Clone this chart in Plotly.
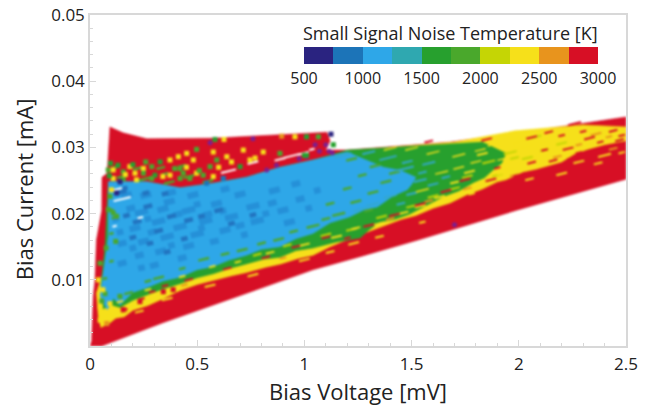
import plotly.graph_objects as go

FONT = "Open Sans"
TEXT = "#222222"
BAND_COLORS = ["#2a2380", "#1c74b8", "#2ea7e8", "#2fa8b0", "#27a02e",
               "#4aa82c", "#c5d505", "#f6e01a", "#e8941d", "#d70f25"]
TEMP_TICKS = [500, 1000, 1500, 2000, 2500, 3000]
STREAK_SLOPE = 0.008

# Region outlines (bias voltage mV, bias current mA)
red_v = [0.0, 0.055, 0.34, 0.685, 1.04, 1.26, 1.53, 1.99, 2.5, 2.5, 2.02, 1.68, 1.2, 1.10, 1.12, 1.105, 0.886, 0.575, 0.265, 0.154, 0.093, 0.08, 0.056, 0.055, 0.03, 0.023, 0.015, 0.008]
red_i = [0.0, 0.0, 0.0035, 0.0075, 0.0115, 0.0135, 0.016, 0.0205, 0.0252, 0.0346, 0.0323, 0.0308, 0.0296, 0.0296, 0.031, 0.0323, 0.0319, 0.0314, 0.0313, 0.0322, 0.0331, 0.0261, 0.0255, 0.0205, 0.016, 0.01, 0.0075, 0.001]

yellow_v = [0.05, 0.09, 0.12, 0.16, 0.2, 0.27, 0.33, 0.42, 0.5, 0.58, 0.66, 0.73, 0.82, 0.89, 0.97, 1.04, 1.12, 1.21, 1.3, 1.37, 1.45, 1.52, 1.6, 1.68, 1.76, 1.83, 1.9, 1.94, 2.02, 2.08, 2.15, 2.2, 2.26, 2.32, 2.4, 2.5, 2.5, 2.3, 1.98, 1.7, 1.2, 0.9, 0.3, 0.07, 0.03, 0.04]
yellow_i = [0.0028, 0.0034, 0.0042, 0.0044, 0.0054, 0.0061, 0.007, 0.0084, 0.0093, 0.01, 0.0106, 0.0111, 0.0119, 0.0124, 0.0132, 0.0137, 0.015, 0.0162, 0.0173, 0.0182, 0.0191, 0.0197, 0.0208, 0.0216, 0.0229, 0.0237, 0.0248, 0.0251, 0.0263, 0.0267, 0.0274, 0.0278, 0.029, 0.0297, 0.0304, 0.031, 0.0331, 0.0334, 0.0325, 0.0308, 0.0295, 0.025, 0.02, 0.012, 0.008, 0.004]

green_v = [0.06, 0.1, 0.14, 0.2, 0.265, 0.34, 0.42, 0.5, 0.575, 0.65, 0.73, 0.81, 0.886, 0.96, 1.04, 1.15, 1.26, 1.3, 1.35, 1.42, 1.49, 1.57, 1.65, 1.72, 1.79, 1.84, 1.88, 1.92, 1.94, 1.83, 1.68, 1.2, 1.04, 0.886, 0.73, 0.575, 0.42, 0.265, 0.085, 0.07, 0.05]
green_i = [0.0056, 0.0062, 0.0058, 0.0069, 0.0077, 0.0086, 0.0094, 0.0103, 0.0109, 0.0117, 0.0124, 0.0131, 0.0134, 0.0144, 0.0148, 0.0157, 0.0163, 0.0175, 0.0187, 0.0191, 0.0199, 0.0213, 0.0226, 0.0234, 0.0247, 0.0254, 0.0266, 0.0276, 0.0291, 0.0308, 0.0305, 0.0296, 0.0281, 0.027, 0.0255, 0.0246, 0.0239, 0.0248, 0.0248, 0.015, 0.009]

blue_v = [0.085, 0.265, 0.42, 0.575, 0.73, 0.886, 1.04, 1.2, 1.28, 1.37, 1.45, 1.52, 1.5, 1.48, 1.41, 1.34, 1.28, 1.21, 1.12, 1.04, 0.96, 0.886, 0.8, 0.73, 0.65, 0.575, 0.5, 0.42, 0.34, 0.265, 0.2, 0.14, 0.11, 0.08, 0.047, 0.07, 0.085, 0.085]
blue_i = [0.0248, 0.0248, 0.0239, 0.0246, 0.0255, 0.027, 0.0281, 0.0293, 0.0282, 0.027, 0.0265, 0.0255, 0.0244, 0.0236, 0.0226, 0.021, 0.0206, 0.0195, 0.0186, 0.017, 0.0162, 0.015, 0.0146, 0.0137, 0.013, 0.012, 0.0115, 0.0104, 0.0098, 0.0088, 0.0081, 0.0062, 0.0072, 0.0055, 0.0075, 0.0125, 0.0165, 0.0216]

# Short streaks: (centre v, centre i, length in v)
dark_blue_streaks = [
    (0.17,0.0228,0.05),(0.26,0.0228,0.05),(0.37,0.0218,0.05),(0.24,0.0202,0.06),(0.34,0.0207,0.05),(0.46,0.0205,0.06),
    (0.59,0.0215,0.05),(0.21,0.0178,0.05),(0.32,0.0188,0.06),(0.42,0.018,0.06),(0.54,0.0189,0.06),(0.66,0.0195,0.06),
    (0.76,0.0211,0.06),(0.25,0.0158,0.05),(0.36,0.0165,0.06),(0.5,0.0169,0.06),(0.63,0.0175,0.05),(0.78,0.0189,0.06),
    (0.9,0.0205,0.05),(0.23,0.0137,0.04),(0.33,0.0143,0.05),(0.46,0.0151,0.05),(0.19,0.0208,0.04),(0.48,0.0228,0.05),
    (0.7,0.0229,0.05),(0.86,0.0235,0.05),(0.93,0.0187,0.05),(0.15,0.0155,0.04),(0.12,0.0192,0.03),(0.29,0.0172,0.04),
    (0.41,0.0199,0.04),(0.55,0.0199,0.04),(0.7,0.0182,0.04),(0.85,0.0216,0.04),(0.98,0.0222,0.04),(0.58,0.0158,0.04),
    (0.15,0.0125,0.04),(0.3,0.0122,0.04),(0.43,0.0133,0.04),(0.96,0.0245,0.04),(0.63,0.0237,0.04),(0.38,0.0232,0.04),
    (0.2,0.0148,0.03),(0.27,0.0192,0.03),(0.38,0.0152,0.03),(0.5,0.0214,0.03),(0.62,0.0204,0.03),(0.72,0.0168,0.03),
    (0.82,0.02,0.03),(0.14,0.0172,0.03),(0.24,0.0118,0.03),(0.52,0.0178,0.03),(1.06,0.0235,0.03),(1.02,0.0208,0.03),
]
navy_streaks = [
    (0.15,0.0233,0.04),(0.27,0.0211,0.04),(0.38,0.0196,0.04),(0.46,0.019,0.04),(0.6,0.0205,0.04),(0.32,0.0174,0.04),
    (0.22,0.0188,0.04),(0.26,0.0231,0.03),(0.35,0.023,0.03),(0.16,0.0238,0.03),(0.28,0.0155,0.03),(0.44,0.0162,0.03),
    (0.52,0.0196,0.03),(0.2,0.0164,0.03),(0.36,0.0142,0.03),(0.66,0.0185,0.03),(0.76,0.0198,0.03),(0.17,0.0197,0.03),
]
green_streaks = [
    (0.115,0.0194,0.03),(0.095,0.0205,0.03),(0.1,0.017,0.02),(0.1,0.0128,0.02),(0.18,0.008,0.04),(0.32,0.0103,0.05),
    (0.53,0.0131,0.05),(0.71,0.0145,0.05),(0.88,0.0161,0.05),(1.04,0.0181,0.06),(1.16,0.0199,0.06),(0.25,0.0252,0.06),
    (0.37,0.0247,0.05),(0.46,0.0256,0.05),(0.55,0.0249,0.05),(0.15,0.0256,0.05),(0.12,0.027,0.03),(0.22,0.0268,0.04),
    (0.33,0.0269,0.04),(0.43,0.0272,0.04),(0.07,0.0102,0.02),(0.27,0.0098,0.03),(0.43,0.0117,0.03),(0.63,0.0139,0.04),
    (0.8,0.0155,0.04),(0.95,0.0173,0.04),(1.1,0.0192,0.04),(0.35,0.026,0.03),(1.24,0.0218,0.05),(1.32,0.0232,0.05),
    (1.38,0.0248,0.05),(1.42,0.0262,0.05),(1.33,0.0272,0.05),(1.27,0.0258,0.04),(1.2,0.0238,0.04),(1.22,0.0282,0.05),
    (1.12,0.0215,0.04),(1.3,0.0205,0.04),
]
blue_streaks = [
    (1.39,0.0284,0.08),(1.47,0.0268,0.08),(1.54,0.025,0.06),(1.4,0.0226,0.06),(1.32,0.0214,0.06),(1.58,0.0276,0.06),
    (1.26,0.0206,0.06),(1.18,0.0288,0.08),(1.3,0.0292,0.06),(1.6,0.0244,0.05),(1.5,0.023,0.05),(1.45,0.0215,0.04),
    (1.66,0.0255,0.04),(1.55,0.0262,0.04),(1.48,0.0278,0.05),
]
deep_green_streaks = [
    (1.72,0.0288,0.06),(1.64,0.0262,0.06),(1.72,0.0269,0.05),(1.8,0.0278,0.05),(1.55,0.0235,0.06),(1.6,0.0292,0.06),
    (1.4,0.0298,0.06),(1.5,0.0298,0.06),(1.82,0.0296,0.05),(1.92,0.0282,0.04),(2.04,0.0301,0.05),(2.08,0.0288,0.04),
    (1.96,0.0268,0.04),(2.0,0.0308,0.05),(1.88,0.0304,0.05),(2.12,0.0308,0.04),(2.02,0.0276,0.03),(2.16,0.0316,0.03),
]
lime_streaks = [
    (1.86,0.0278,0.06),(1.96,0.0292,0.06),(1.9,0.0258,0.05),(1.76,0.0256,0.05),(1.6,0.0226,0.05),(1.7,0.0238,0.05),
    (1.5,0.0211,0.05),(1.36,0.0195,0.05),(1.22,0.0176,0.05),(1.1,0.0168,0.05),(0.92,0.0152,0.04),(0.78,0.0138,0.04),
    (2.04,0.0284,0.05),(2.08,0.0316,0.05),(2.2,0.0306,0.05),(1.98,0.0284,0.04),(2.12,0.0296,0.04),
]
yellow_streaks = [
    (1.77,0.0263,0.05),(1.83,0.029,0.05),(1.63,0.0225,0.05),(1.54,0.0211,0.05),(1.46,0.0201,0.05),(1.35,0.0185,0.05),
    (1.24,0.0178,0.04),(1.15,0.0165,0.05),(1.96,0.0277,0.05),(1.92,0.0261,0.04),(1.99,0.03,0.05),(1.7,0.0247,0.04),
    (1.0,0.0153,0.05),(0.84,0.0141,0.04),(0.69,0.0127,0.03),(0.57,0.012,0.03),(0.43,0.0105,0.03),(0.27,0.0085,0.03),
    (0.14,0.0067,0.03),(0.09,0.0048,0.03),(2.28,0.0278,0.05),(2.4,0.0288,0.06),(2.2,0.026,0.05),
    (1.23,0.0155,0.05),(1.0,0.013,0.05),(0.76,0.0107,0.05),(0.56,0.0091,0.05),(0.36,0.0071,0.05),(0.23,0.0052,0.04),
    (1.55,0.0187,0.03),(0.06,0.0035,0.02),(0.05,0.006,0.02),(0.04,0.0098,0.015),(0.12,0.0045,0.03),(0.2,0.0062,0.03),
    (1.12,0.0142,0.04),(1.35,0.0165,0.04),(1.78,0.023,0.03),(2.05,0.0252,0.04),(2.37,0.0276,0.04),(2.48,0.0292,0.03),
]
orange_streaks = [
    (2.36,0.032,0.05),(2.18,0.0286,0.04),(1.98,0.0258,0.04),(1.76,0.0238,0.04),(1.58,0.0219,0.04),(1.4,0.0192,0.04),
    (2.44,0.0298,0.04),(0.16,0.0052,0.03),(0.44,0.0092,0.03),(0.9,0.0133,0.03),(2.28,0.0304,0.03),(2.42,0.0316,0.03),
]
red_streaks = [
    (1.66,0.0234,0.05),(1.54,0.0214,0.05),(1.42,0.0198,0.05),(1.3,0.0182,0.05),(1.75,0.0251,0.05),(1.87,0.0251,0.05),
    (2.0,0.0258,0.05),(2.06,0.0277,0.04),(2.16,0.028,0.04),(2.23,0.0298,0.05),(2.33,0.0314,0.05),(2.41,0.03,0.05),
    (2.47,0.0311,0.04),(2.36,0.0296,0.06),(2.06,0.0315,0.05),(2.26,0.0336,0.06),(1.1,0.0164,0.04),(0.96,0.015,0.04),
    (0.82,0.0134,0.04),(0.64,0.0117,0.04),(0.46,0.01,0.04),(0.35,0.0091,0.03),(0.24,0.0071,0.03),(0.16,0.0055,0.03),
    (1.85,0.0312,0.05),(1.58,0.0309,0.04),(2.14,0.0323,0.04),(2.44,0.0325,0.04),(2.3,0.0324,0.03),(2.46,0.0305,0.03),
    (2.24,0.0283,0.03),(2.12,0.0296,0.03),(1.9,0.0269,0.03),(1.48,0.0188,0.03),(1.2,0.0163,0.03),(0.29,0.0082,0.03),
    (2.38,0.0308,0.03),(2.2,0.0318,0.03),(2.48,0.0318,0.03),(2.28,0.0292,0.03),
]
white_streaks = [
    (0.76,0.0277,0.05),(0.886,0.0282,0.05),(0.94,0.0287,0.07),(0.995,0.0291,0.05),(1.035,0.0297,0.025),(0.646,0.0264,0.07),
    (0.13,0.0237,0.04),(0.15,0.0222,0.08),(0.235,0.0194,0.025),(0.115,0.0181,0.02),
]

# Loose points (v, i, temperature)
speck_v = [0.096,0.186,0.249,0.288,0.327,0.373,0.412,0.451,0.497,0.482,0.575,0.715,0.808,0.42,0.435,0.497,0.56,0.591,0.638,0.575,0.528,
           0.085,0.108,0.155,0.21,0.249,0.303,0.373,0.42,0.466,0.288,0.108,0.155,0.217,0.622,0.544,
           0.583,0.625,0.894,0.956,1.01,1.065,0.746,0.77,0.886,0.7,1.01,
           0.108,0.124,0.085,0.1,0.124,0.14,0.093,
           0.047,0.039,0.07,0.047,0.047,0.093,0.078,0.155,0.233,0.342,0.388,
           1.124,1.135,1.0,
           0.13,0.165,0.2,0.26,0.34,0.395,0.45,0.51,0.6,0.66,0.09,0.075,0.12,0.06,0.055,0.14]
speck_i = [0.0276,0.0271,0.0268,0.0271,0.0278,0.0281,0.0286,0.0291,0.0297,0.0281,0.0293,0.0296,0.0293,0.0268,0.0261,0.0261,0.0271,0.0281,0.0286,0.0256,0.0258,
           0.0266,0.0266,0.0263,0.0261,0.0261,0.0258,0.0258,0.0253,0.0253,0.0253,0.0253,0.0253,0.0251,0.0253,0.0246,
           0.0312,0.0312,0.0317,0.0316,0.0316,0.0316,0.0281,0.0284,0.0291,0.0271,0.0288,
           0.0201,0.0196,0.0206,0.0236,0.0231,0.0248,0.0226,
           0.0125,0.01,0.0079,0.0059,0.0039,0.0064,0.0034,0.0055,0.0067,0.0082,0.0085,
           0.032,0.0304,0.0288,
           0.0273,0.0259,0.0274,0.0278,0.0256,0.0268,0.027,0.0265,0.027,0.0278,0.0257,0.0148,0.0158,0.0085,0.0068,0.0075]
speck_t = [1600,2400,2400,1900,1600,2400,2400,2400,1900,2400,2400,2400,2400,1900,1900,2400,1900,1900,2400,2400,1900,
           1900,2400,1900,2400,1900,1600,2400,1900,1900,1900,2400,1900,2400,800,800,
           1600,2400,2600,2400,1600,1900,2400,2400,1900,1600,1600,
           1900,1900,1900,2400,700,700,1900,
           1900,2400,1900,2400,2400,2400,2600,2900,2900,2900,2900,
           600,1600,1600,
           1600,2400,1600,1900,2400,1900,2300,1900,2400,2400,1600,1900,1900,2400,1900,1900]

purple_v = [0.56, 0.76, 0.824, 0.87, 1.01, 0.975, 1.05, 1.10, 1.07, 1.115, 1.13, 1.70]
purple_i = [0.0307, 0.0313, 0.0266, 0.0273, 0.0286, 0.0283, 0.0304, 0.0304, 0.0294, 0.0294, 0.0292, 0.0183]


def streak_xy(streaks):
    xs, ys = [], []
    for v, i, dv in streaks:
        xs += [v - dv / 2, v + dv / 2, None]
        ys += [i - STREAK_SLOPE * dv / 2, i + STREAK_SLOPE * dv / 2, None]
    return xs, ys


fig = go.Figure()


def add_region(vs, cs, color):
    fig.add_trace(go.Scatter(x=vs, y=cs, mode="lines", fill="toself", fillcolor=color,
                             line=dict(color=color, width=0.5), hoverinfo="skip", showlegend=False))


def add_streaks(streaks, color, width):
    xs, ys = streak_xy(streaks)
    fig.add_trace(go.Scatter(x=xs, y=ys, mode="lines", line=dict(color=color, width=width),
                             hoverinfo="skip", showlegend=False, connectgaps=False))


add_region(red_v, red_i, BAND_COLORS[9])
add_region(yellow_v, yellow_i, BAND_COLORS[7])
add_region(green_v, green_i, BAND_COLORS[4])
add_region(blue_v, blue_i, BAND_COLORS[2])
add_streaks(dark_blue_streaks, "#2590d8", 6)
add_streaks(navy_streaks, "#2274c0", 4.5)
add_streaks(green_streaks, BAND_COLORS[5], 2.5)
add_streaks(blue_streaks, "#33a8d0", 2)
add_streaks(deep_green_streaks, BAND_COLORS[7], 1.5)
add_streaks(lime_streaks, BAND_COLORS[6], 2)
add_streaks(yellow_streaks, BAND_COLORS[7], 2)
add_streaks(orange_streaks, BAND_COLORS[8], 2)
add_streaks(red_streaks, BAND_COLORS[9], 2)
add_streaks(white_streaks, "#ffffff", 2)

fig.add_trace(go.Scatter(
    x=purple_v, y=purple_i, mode="markers", hoverinfo="skip", showlegend=False,
    marker=dict(color="#7d1f90", size=5)))

stops = []
for k, c in enumerate(BAND_COLORS):
    stops += [[k / 10, c], [(k + 1) / 10, c]]

fig.add_trace(go.Scatter(
    x=speck_v, y=speck_i, mode="markers", showlegend=False,
    marker=dict(
        symbol="square", size=5, color=speck_t, cmin=500, cmax=3000, colorscale=stops,
        colorbar=dict(
            orientation="h", lenmode="pixels", len=294, thicknessmode="pixels", thickness=17,
            x=0.6735, xanchor="center", y=0.903, yanchor="top", xpad=0, ypad=0,
            tickvals=TEMP_TICKS, ticks="", outlinewidth=0, borderwidth=0, bgcolor="rgba(0,0,0,0)",
            tickfont=dict(family=FONT, size=16, color=TEXT),
        ),
    )))

axis_common = dict(
    showgrid=False, zeroline=False, showline=True, linecolor="#d8d8d8", linewidth=1.5, mirror=True,
    ticks="inside", tickcolor="#d8d8d8", ticklen=6,
    tickfont=dict(family=FONT, size=17, color=TEXT),
)
fig.update_layout(
    width=652, height=405, margin=dict(l=90, r=26, t=15, b=59, autoexpand=False),
    paper_bgcolor="white", plot_bgcolor="white", showlegend=False,
    font=dict(family=FONT, color=TEXT),
    xaxis=dict(range=[0, 2.5], tickvals=[0, 0.5, 1, 1.5, 2, 2.5], ticktext=["0", "0.5", "1", "1.5", "2", "2.5"],
               minor=dict(dtick=0.1, ticks="inside", ticklen=3, tickcolor="#d8d8d8"),
               ticklabelstandoff=2, **axis_common),
    yaxis=dict(range=[0, 0.05], tickvals=[0.01, 0.02, 0.03, 0.04, 0.05],
               ticktext=["0.01", "0.02", "0.03", "0.04", "0.05"],
               minor=dict(dtick=0.002, ticks="inside", ticklen=3, tickcolor="#d8d8d8"),
               **axis_common),
    annotations=[
        dict(text="Bias Voltage [mV]", xref="paper", yref="paper", x=0.5, y=-0.136, xanchor="center", yanchor="middle",
             showarrow=False, font=dict(family=FONT, size=22, color=TEXT)),
        dict(text="Bias Current [mA]", xref="paper", yref="paper", x=-0.123, y=0.474, xanchor="center", yanchor="middle",
             textangle=-90, showarrow=False, font=dict(family=FONT, size=22, color=TEXT)),
        dict(text="Small Signal Noise Temperature [K]", xref="paper", yref="paper", x=0.6735, y=0.946, xanchor="center",
             yanchor="middle", showarrow=False, font=dict(family=FONT, size=18, color=TEXT)),
    ],
)
# Remove the page's body margin and soften the marks like the scanned original.
POST = ("document.body.style.margin='0';document.documentElement.style.overflow='hidden';"
        "document.querySelectorAll('.scatterlayer').forEach(function(e){e.style.filter='blur(0.9px)';});")
fig.write_html("out.html", post_script=POST, config={"displayModeBar": False})
